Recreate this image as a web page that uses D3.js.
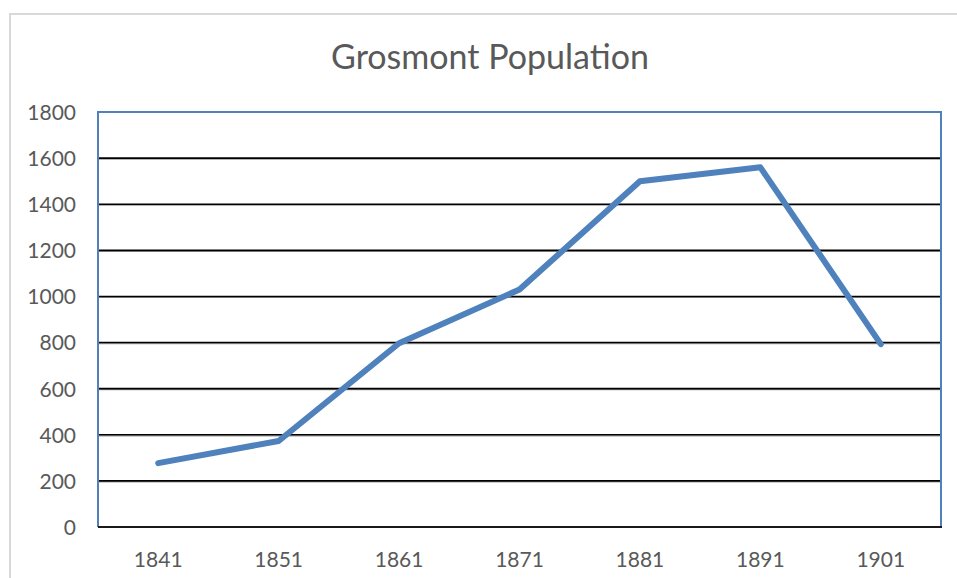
<!DOCTYPE html>
<html>
<head>
<meta charset="utf-8">
<script src="https://cdn.jsdelivr.net/npm/d3@7/dist/d3.min.js"></script>
<style>
  html, body { margin: 0; padding: 0; background: #fff; }
  svg { display: block; font-family: Lato, "Open Sans", sans-serif; }
</style>
</head>
<body>
<svg id="chart" width="957" height="578"></svg>
<script>
// Census years and population counts
const years = ["1841", "1851", "1861", "1871", "1881", "1891", "1901"];
const population = [277, 373, 797, 1030, 1500, 1560, 793];
const yTicks = [0, 200, 400, 600, 800, 1000, 1200, 1400, 1600, 1800];
const title = "Grosmont Population";

const W = 957, H = 578;
const plot = { left: 98, right: 941, top: 112, bottom: 527 };

const svg = d3.select("#chart");

// chart frame
svg.append("rect")
  .attr("x", 10).attr("y", 14)
  .attr("width", W + 20).attr("height", H + 20)
  .attr("fill", "#fff")
  .attr("stroke", "#d9d9d9")
  .attr("stroke-width", 2);

svg.append("text")
  .attr("x", 490)
  .attr("y", 69)
  .attr("text-anchor", "middle")
  .attr("fill", "#595959")
  .attr("font-size", 34)
  .text(title);

const x = d3.scaleBand().domain(years).range([plot.left, plot.right]);
const y = d3.scaleLinear().domain([0, 1800]).range([plot.bottom, plot.top]);

// horizontal gridlines
const grid = svg.append("g");
grid.selectAll("line.shadow")
  .data(yTicks.filter(d => d > 0 && d < 1800))
  .join("line")
  .attr("class", "shadow")
  .attr("x1", plot.left).attr("x2", plot.right)
  .attr("y1", d => y(d) + 1).attr("y2", d => y(d) + 1)
  .attr("stroke", "#9a9a9a").attr("stroke-width", 1.2);
grid.selectAll("line.major")
  .data(yTicks.filter(d => d > 0 && d < 1800))
  .join("line")
  .attr("class", "major")
  .attr("x1", plot.left).attr("x2", plot.right)
  .attr("y1", d => y(d)).attr("y2", d => y(d))
  .attr("stroke", "#000").attr("stroke-width", 1.6);

// plot-area border (blue on left, top, right)
svg.append("path")
  .attr("d", `M${plot.left},${plot.bottom}V${plot.top}H${plot.right}V${plot.bottom}`)
  .attr("fill", "none")
  .attr("stroke", "#4f81bd")
  .attr("stroke-width", 2);

// category axis line
svg.append("line")
  .attr("x1", plot.left).attr("x2", plot.right + 1)
  .attr("y1", plot.bottom).attr("y2", plot.bottom)
  .attr("stroke", "#1a1a1a").attr("stroke-width", 2);

// value axis labels
const yAxis = d3.axisLeft(y).tickValues(yTicks).tickFormat(d3.format("d")).tickSize(0).tickPadding(0);
const gy = svg.append("g").attr("transform", `translate(${plot.left - 22},0)`).call(yAxis);
gy.select(".domain").remove();
gy.selectAll("text")
  .attr("fill", "#595959")
  .attr("font-size", 21)
  .attr("font-family", "Lato, 'Open Sans', sans-serif")
  .attr("dy", "0.35em");

// category axis labels
const xAxis = d3.axisBottom(x).tickSize(0).tickPadding(0);
const gx = svg.append("g").attr("transform", `translate(0,${plot.bottom + 25})`).call(xAxis);
gx.select(".domain").remove();
gx.selectAll("text")
  .attr("fill", "#595959")
  .attr("font-size", 21)
  .attr("font-family", "Lato, 'Open Sans', sans-serif")
  .attr("dy", "0.71em");

// population line
const line = d3.line()
  .x((d, i) => x(years[i]) + x.bandwidth() / 2)
  .y(d => y(d));

svg.append("path")
  .datum(population)
  .attr("d", line)
  .attr("fill", "none")
  .attr("stroke", "#4f81bd")
  .attr("stroke-width", 6)
  .attr("stroke-linejoin", "round")
  .attr("stroke-linecap", "round");
</script>
</body>
</html>
